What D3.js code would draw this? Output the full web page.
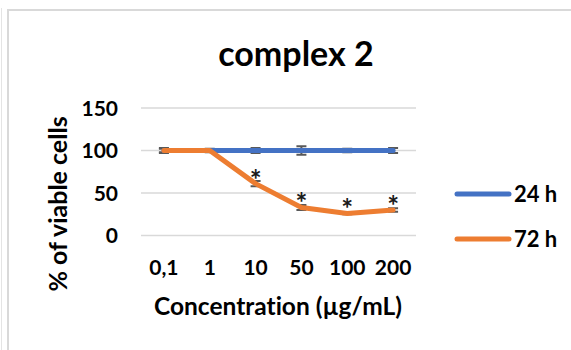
<!DOCTYPE html>
<html><head><meta charset="utf-8">
<script src="https://cdn.jsdelivr.net/npm/d3@7"></script>
<style>html,body{margin:0;padding:0;background:#fff;}svg{display:block;}text{font-variant-ligatures:none;}</style>
</head><body>
<svg id="c" width="571" height="350"></svg>
<script>
const categories = ["0,1","1","10","50","100","200"];
const h24 = [100,100,100,100,100,100];
const h72 = [100,100,61,33,26,30];
const err24 = [3,2,3,5,2,3];
const err72 = [2,1,3,3,1,2];
const significant = [false,false,true,true,true,true];
const yTicks = [0,50,100,150];
const seriesNames = ["24 h","72 h"];
const colors = ["#4472C4","#ED7D31"];

const font = "Lato, 'Open Sans', sans-serif";
const svg = d3.select("#c");

// borders
svg.append("line").attr("x1",1.5).attr("x2",1.5).attr("y1",8).attr("y2",350).attr("stroke","#e4e4e4").attr("stroke-width",1);
svg.append("path").attr("d","M8,350 V10 H571").attr("fill","none").attr("stroke","#d9d9d9").attr("stroke-width",2);

const x = d3.scaleBand().domain(categories).range([141,416]);
const y = d3.scaleLinear().domain([0,150]).range([235.5,108]);
const cx = c => x(c) + x.bandwidth()/2;

// gridlines
svg.append("g").selectAll("line").data(yTicks).join("line")
  .attr("x1",141).attr("x2",416).attr("y1",d=>y(d)).attr("y2",d=>y(d))
  .attr("stroke","#d9d9d9").attr("stroke-width",1.5);

// y axis labels
const yAxis = d3.axisLeft(y).tickValues(yTicks).tickSize(0).tickPadding(0);
const gy = svg.append("g").attr("transform","translate(118,0)").call(yAxis);
gy.select(".domain").remove();
gy.selectAll("text").attr("font-family",font).attr("font-weight","bold").attr("font-size",21).attr("fill","#000").attr("dy","0.35em");

// x axis labels
const xAxis = d3.axisBottom(x).tickSize(0).tickPadding(0);
const gx = svg.append("g").attr("transform","translate(0,268)").call(xAxis);
gx.select(".domain").remove();
gx.selectAll("text").attr("font-family",font).attr("font-weight","bold").attr("font-size",21).attr("fill","#000").attr("dy","0.35em");

// titles
svg.append("text").attr("x",296).attr("y",66).attr("text-anchor","middle")
  .attr("font-family",font).attr("font-weight","bold").attr("font-size",34).text("complex 2");
svg.append("text").attr("x",278).attr("y",315).attr("text-anchor","middle")
  .attr("font-family",font).attr("font-weight","bold").attr("font-size",24.5).text("Concentration (µg/mL)");
svg.append("text").attr("transform","translate(67,204) rotate(-90)").attr("text-anchor","middle")
  .attr("font-family",font).attr("font-weight","bold").attr("font-size",25).text("% of viable cells");

const line = d3.line().x((d,i)=>cx(categories[i])).y(d=>y(d));
const series = [h24,h72];
const errs = [err24,err72];

series.forEach((s,k)=>{
  const g = svg.append("g");
  s.forEach((v,i)=>{
    const xx = cx(categories[i]), e = errs[k][i];
    g.append("path").attr("d",`M${xx-5},${y(v+e)}H${xx+5}M${xx},${y(v+e)}V${y(v-e)}M${xx-5},${y(v-e)}H${xx+5}`)
      .attr("stroke","#595959").attr("stroke-width",2).attr("fill","none");
  });
});
series.forEach((s,k)=>{
  svg.append("path").datum(s).attr("d",line).attr("fill","none")
    .attr("stroke",colors[k]).attr("stroke-width",5).attr("stroke-linecap","round").attr("stroke-linejoin","round");
});

// asterisks
svg.append("g").selectAll("text").data(h72.map((v,i)=>({v,i})).filter(d=>significant[d.i])).join("text")
  .attr("x",d=>cx(categories[d.i])).attr("y",d=>y(d.v)+6).attr("text-anchor","middle")
  .attr("font-family",font).attr("font-weight","bold").attr("font-size",28).attr("fill","#1a1a1a").text("*");

// legend
const lg = svg.append("g");
seriesNames.forEach((n,k)=>{
  const ly = 194 + k*45;
  lg.append("line").attr("x1",457).attr("x2",509).attr("y1",ly).attr("y2",ly)
    .attr("stroke",colors[k]).attr("stroke-width",5).attr("stroke-linecap","round");
  lg.append("text").attr("x",514).attr("y",ly).attr("dy","0.35em")
    .attr("font-family",font).attr("font-weight","bold").attr("font-size",22).text(n);
});
</script>
</body></html>
